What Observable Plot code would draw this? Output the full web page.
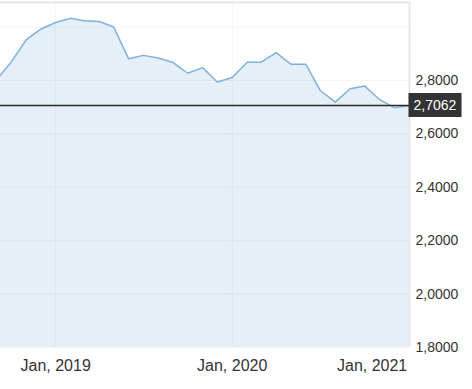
<!DOCTYPE html>
<html><head>
<meta charset="utf-8">
<script src="https://cdn.jsdelivr.net/npm/d3@7"></script>
<script src="https://cdn.jsdelivr.net/npm/@observablehq/plot@0.6"></script>
<style>html,body{margin:0;padding:0;background:#fff;} svg{display:block}</style>
</head><body><div id="chart"></div>
<script>
const months = ["2018-09","2018-10","2018-11","2018-12","2019-01","2019-02","2019-03","2019-04","2019-05","2019-06","2019-07","2019-08","2019-09","2019-10","2019-11","2019-12","2020-01","2020-02","2020-03","2020-04","2020-05","2020-06","2020-07","2020-08","2020-09","2020-10","2020-11","2020-12","2021-01"];
const values = [2.803,2.8685,2.952,2.992,3.017,3.033,3.024,3.021,3.000,2.881,2.894,2.884,2.867,2.827,2.848,2.794,2.811,2.8685,2.8685,2.904,2.861,2.861,2.7625,2.719,2.769,2.779,2.728,2.698,2.7062];
const lastValue = 2.7062;
const yTicks = [1.8,2.0,2.2,2.4,2.6,2.8];
const yGrid = [1.8,2.0,2.2,2.4,2.6,2.8,3.0];
const xTickDates = ["2019-01-01","2020-01-01"];
const xTickLabels = ["Jan, 2019","Jan, 2020"];
const xEndTickDate = ["2021-01-01"];
const xEndTickLabel = ["Jan, 2021"];

const data = months.map((m,i)=>({date:new Date(m+"-01T00:00:00Z"), value:values[i]}));
const fmt = d => d.toFixed(4).replace(".", ",");
const xDomain = [new Date("2018-09-09T00:00:00Z"), new Date("2021-01-01T12:00:00Z")];
const yDomain = [1.8, 3.092];

const chart = Plot.plot({
  width: 472, height: 389,
  marginTop: 2, marginBottom: 42, marginLeft: 0, marginRight: 63,
  style: {fontFamily: "'Liberation Sans', Arial, sans-serif", fontSize: "14px", color: "#333", background: "#fff"},
  x: {type: "utc", domain: xDomain, axis: null, label: null},
  y: {domain: yDomain, axis: null, label: null},
  marks: [
    Plot.areaY(data, {x:"date", y1: yDomain[0], y2:"value", fill:"#e6eef7", clip:true}),
    Plot.ruleY(yGrid, {stroke:"#000", strokeOpacity:0.045}),
    Plot.ruleX(xTickDates.map(d=>new Date(d+"T00:00:00Z")), {stroke:"#000", strokeOpacity:0.045}),
    Plot.lineY(data, {x:"date", y:"value", stroke:"#7fb2de", strokeWidth:1.5, clip:true}),
    Plot.ruleY([yDomain[1]], {stroke:"#e6e7ee", strokeWidth:2}),
    Plot.ruleX([xDomain[1]], {stroke:"#e6e7ee", strokeWidth:2}),
    Plot.ruleY([lastValue], {stroke:"#2b2b2b", strokeWidth:1.5}),
    Plot.axisY(yTicks, {anchor:"right", tickSize:0, tickPadding:6, tickFormat: fmt, fill:"#333", fontSize:14, label:null}),
    Plot.text(xTickDates.map(d=>new Date(d+"T00:00:00Z")), {x:d=>d, text:(d,i)=>xTickLabels[i], frameAnchor:"bottom", dy:23, fill:"#333", fontSize:16}),
    Plot.text(xEndTickDate.map(d=>new Date(d+"T00:00:00Z")), {x:d=>d, text:(d,i)=>xEndTickLabel[i], frameAnchor:"bottom", dy:23, textAnchor:"end", dx:-2, fill:"#333", fontSize:16}),
    Plot.text([lastValue], {y:d=>d, text:fmt, frameAnchor:"right", dx:4, textAnchor:"start", fill:"#fff", fontSize:14})
  ]
});
document.getElementById("chart").appendChild(chart);
// background box behind last-value label
const label = fmt(lastValue);
const t = Array.from(chart.querySelectorAll("text")).find(e => e.textContent === label && (e.getAttribute("fill") === "#fff" || (e.parentNode && e.parentNode.getAttribute("fill") === "#fff")));
if (t) {
  const bb = t.getBBox();
  const r = document.createElementNS("http://www.w3.org/2000/svg","rect");
  r.setAttribute("x", bb.x - 5); r.setAttribute("y", bb.y - 4);
  r.setAttribute("width", bb.width + 10); r.setAttribute("height", bb.height + 8);
  r.setAttribute("fill", "#333");
  const tr = t.getAttribute("transform");
  if (tr) r.setAttribute("transform", tr);
  t.parentNode.insertBefore(r, t);
}
</script>
</body></html>
